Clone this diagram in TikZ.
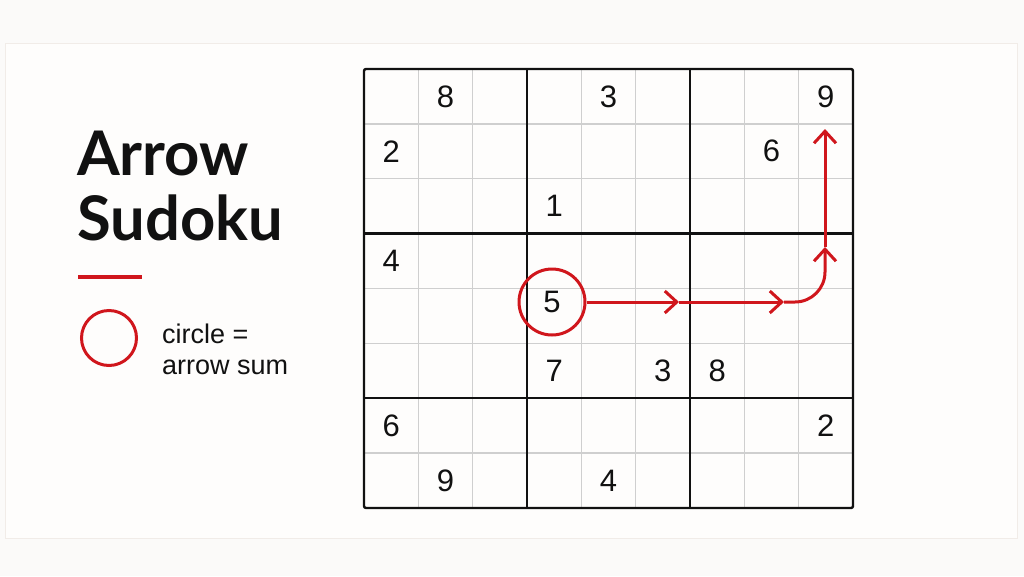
\documentclass[tikz,border=0pt]{standalone}
\usepackage{fontspec}
\setmainfont{Liberation Sans}
\newfontfamily\titlefont{Lato}
\usetikzlibrary{arrows.meta}
\definecolor{bgc}{HTML}{FBFAF9}
\definecolor{panelc}{HTML}{FEFDFC}
\definecolor{panelline}{HTML}{F1ECE8}
\definecolor{thinc}{HTML}{CFCFCF}
\definecolor{redc}{HTML}{D0161C}
\definecolor{inkc}{HTML}{111111}
\tikzset{
  thinline/.style={draw=thinc, line width=1.3pt},
  thickline/.style={draw=inkc, line width=2.4pt},
  digit/.style={inner sep=0pt, text=inkc, font=\fontsize{31}{31}\selectfont},
  redpath/.style={draw=redc, line width=3pt},
  barb/.style={-{Straight Barb[length=12pt,width=22pt,line width=3pt]}},
  titletext/.style={anchor=base west, inner sep=0pt, text=inkc, font=\titlefont\fontsize{61.5}{65}\selectfont\bfseries},
  legendtext/.style={anchor=base west, inner sep=0pt, text=inkc, font=\fontsize{27}{30}\selectfont}
}
\begin{document}
\begin{tikzpicture}[x=1pt,y=-1pt]
\useasboundingbox (0,0) rectangle (1024,576);
\fill[bgc] (0,0) rectangle (1024,576);
\draw[panelline, fill=panelc, line width=1pt] (5,43) rectangle (1017,538);
% grid
\def\gx{364}\def\gy{69}\def\cw{54.333}\def\rh{54.875}
\foreach \i in {1,2,4,5,7,8}{
  \draw[thinline] ({\gx+\i*\cw},\gy) -- ({\gx+\i*\cw},{\gy+8*\rh});
}
\foreach \j in {1,2,4,5,7}{
  \draw[thinline] (\gx,{\gy+\j*\rh}) -- ({\gx+9*\cw},{\gy+\j*\rh});
}
\foreach \i in {3,6}{
  \draw[thickline] ({\gx+\i*\cw},\gy) -- ({\gx+\i*\cw},{\gy+8*\rh});
}
\foreach \j in {3,6}{
  \draw[thickline] (\gx,{\gy+\j*\rh}) -- ({\gx+9*\cw},{\gy+\j*\rh});
}
\draw[thickline, rounded corners=2pt] (\gx,\gy) rectangle ({\gx+9*\cw},{\gy+8*\rh});
% digits (col,row)
\foreach \c/\r/\d/\n in {2/1/8/da,5/1/3/db,9/1/9/dc,1/2/2/dd,8/2/6/de,4/3/1/df,1/4/4/dg,4/6/7/dh,6/6/3/di,7/6/8/dj,1/7/6/dk,9/7/2/dl,2/8/9/dm,5/8/4/dn}{
  \node[digit] (\n) at ({\gx+(\c-0.5)*\cw},{\gy+(\r-0.5)*\rh}) {\d};
}
% arrow clue
\node[digit, circle, draw=redc, line width=3pt, minimum size=66pt, inner sep=0pt] (sum) at (552,302) {5};
\coordinate (h1) at (679,302);
\coordinate (h2) at (784,302);
\coordinate (corner) at (825,302);
\coordinate (v1) at (825,247);
\coordinate (v2) at (825,129);
\draw[redpath, barb] (sum.east) -- (h1);
\draw[redpath, barb] (h1) -- (h2);
\draw[redpath, barb, rounded corners=30pt] (h2) -- (corner) -- (v1);
\draw[redpath, barb] (v1) -- (v2);
% title and legend
\node[titletext] (t1) at (77,175) {Arrow};
\node[titletext] (t2) at (77,240) {Sudoku};
\draw[draw=redc, line width=4pt] (78,277) -- (142,277);
\node[circle, draw=redc, line width=3pt, minimum size=55pt, inner sep=0pt] (leg) at (109,338) {};
\node[legendtext] (l1) at (162,343) {circle =};
\node[legendtext] (l2) at (162,374) {arrow sum};
\end{tikzpicture}
\end{document}
